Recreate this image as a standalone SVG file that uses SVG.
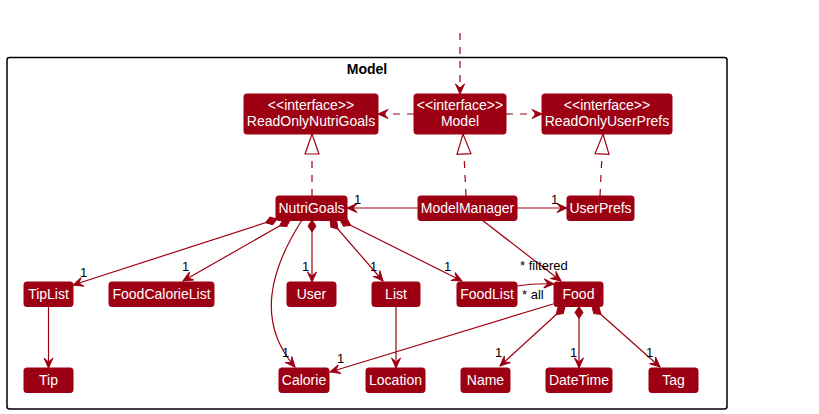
<svg xmlns="http://www.w3.org/2000/svg" width="819" height="414" viewBox="0 0 819 414">
<style>
.box{fill:#9D0012;stroke:#9D0012;stroke-width:1}
.t{font-family:"Liberation Sans",Arial,sans-serif;font-size:14px;fill:#FFFFFF;text-anchor:middle}
.e{fill:none;stroke:#9D0012;stroke-width:1.2}
.d{stroke-dasharray:7,7}
.a{marker-end:url(#arr)}
.r{marker-end:url(#tri)}
.c{marker-start:url(#dia)}
.l{font-family:"Liberation Sans",Arial,sans-serif;font-size:13px;fill:#000000}
</style>
<defs>
<marker id="arr" markerUnits="userSpaceOnUse" markerWidth="12" markerHeight="10" refX="10" refY="5" orient="auto" overflow="visible">
<path d="M0,0.5 L10,5 L0,9.5 L4,5 Z" fill="#9D0012" stroke="#9D0012" stroke-width="1"/>
</marker>
<marker id="dia" markerUnits="userSpaceOnUse" markerWidth="14" markerHeight="10" refX="0" refY="4.5" orient="auto" overflow="visible">
<path d="M0,4.5 L6,0.5 L12,4.5 L6,8.5 Z" fill="#9D0012" stroke="#9D0012" stroke-width="1"/>
</marker>
<marker id="tri" markerUnits="userSpaceOnUse" markerWidth="22" markerHeight="16" refX="20" refY="7" orient="auto" overflow="visible">
<path d="M0,0 L20,7 L0,14 Z" fill="#FFFFFF" stroke="#9D0012" stroke-width="1.2"/>
</marker>
</defs>
<rect width="819" height="414" fill="#FFFFFF"/>
<g id="package-Model">
<rect x="7" y="57.5" width="720" height="351.5" rx="2.5" fill="none" stroke="#000000" stroke-width="1.5"/>
<text x="367" y="74" font-family="'Liberation Sans',Arial,sans-serif" font-size="14" font-weight="bold" text-anchor="middle" fill="#000000">Model</text>
</g>
<g id="connectors">
<path class="e d a" d="M460,33 L460,94"/>
<path class="e d a" d="M414,114 L378,114"/>
<path class="e d a" d="M506,114 L542,114"/>
<path class="e d r" d="M312,196 L312,134"/>
<path class="e d r" d="M466,196 L463,134"/>
<path class="e d r" d="M600,196 L603,134"/>
<path class="e a" d="M418,208 L347,208"/>
<path class="e a" d="M517,208 L567,208"/>
<path class="e a" d="M482,220 L561,281"/>
<path class="e a" d="M517,286 Q536,283 554,284"/>
<path class="e c a" d="M277,219 L73,285"/>
<path class="e c a" d="M290,220 L183,281"/>
<path class="e a" d="M302,220 C270,270 256,322 295,367"/>
<path class="e c a" d="M312,220 L312,282"/>
<path class="e c a" d="M330,220 L383,281"/>
<path class="e c a" d="M340,220 L462,281"/>
<path class="e a" d="M48.5,306.5 L48.5,368"/>
<path class="e a" d="M396,306.5 L396,368"/>
<path class="e a" d="M553,304 L330,372"/>
<path class="e c a" d="M565,306.5 L500,366"/>
<path class="e c a" d="M579,306.5 L579,368"/>
<path class="e c a" d="M592,306.5 L660,367"/>
<text class="l" x="354" y="204">1</text>
<text class="l" x="551" y="204">1</text>
<text class="l" x="520" y="270">* filtered</text>
<text class="l" x="522" y="299">* all</text>
<text class="l" x="80" y="277">1</text>
<text class="l" x="182" y="271">1</text>
<text class="l" x="302" y="271">1</text>
<text class="l" x="370" y="271">1</text>
<text class="l" x="444" y="271">1</text>
<text class="l" x="282" y="357">1</text>
<text class="l" x="337" y="363">1</text>
<text class="l" x="495" y="357">1</text>
<text class="l" x="570" y="357">1</text>
<text class="l" x="646" y="357">1</text>
</g>
<g id="ReadOnlyNutriGoals"><rect class="box" x="244" y="94" width="134" height="40" rx="2.5"/><text class="t" x="311" y="110">&lt;&lt;interface&gt;&gt;</text><text class="t" x="311" y="126">ReadOnlyNutriGoals</text></g>
<g id="Model"><rect class="box" x="414" y="94" width="92" height="40" rx="2.5"/><text class="t" x="460" y="110">&lt;&lt;interface&gt;&gt;</text><text class="t" x="460" y="126">Model</text></g>
<g id="ReadOnlyUserPrefs"><rect class="box" x="542" y="94" width="130" height="40" rx="2.5"/><text class="t" x="607" y="110">&lt;&lt;interface&gt;&gt;</text><text class="t" x="607" y="126">ReadOnlyUserPrefs</text></g>
<g id="NutriGoals"><rect class="box" x="276" y="196" width="71" height="24.5" rx="2.5"/><text class="t" x="311.5" y="213">NutriGoals</text></g>
<g id="ModelManager"><rect class="box" x="418" y="196" width="99" height="24.5" rx="2.5"/><text class="t" x="467.5" y="213">ModelManager</text></g>
<g id="UserPrefs"><rect class="box" x="567" y="196" width="67" height="24.5" rx="2.5"/><text class="t" x="600.5" y="213">UserPrefs</text></g>
<g id="TipList"><rect class="box" x="24" y="282" width="49" height="24.5" rx="2.5"/><text class="t" x="48.5" y="299">TipList</text></g>
<g id="FoodCalorieList"><rect class="box" x="109" y="282" width="105" height="24.5" rx="2.5"/><text class="t" x="161.5" y="299">FoodCalorieList</text></g>
<g id="User"><rect class="box" x="287" y="282" width="49" height="24.5" rx="2.5"/><text class="t" x="311.5" y="299">User</text></g>
<g id="List"><rect class="box" x="372" y="282" width="48" height="24.5" rx="2.5"/><text class="t" x="396" y="299">List</text></g>
<g id="FoodList"><rect class="box" x="457" y="282" width="60" height="24.5" rx="2.5"/><text class="t" x="487" y="299">FoodList</text></g>
<g id="Food"><rect class="box" x="554" y="282" width="49" height="24.5" rx="2.5"/><text class="t" x="578.5" y="299">Food</text></g>
<g id="Tip"><rect class="box" x="24" y="368" width="49" height="24.5" rx="2.5"/><text class="t" x="48.5" y="385">Tip</text></g>
<g id="Calorie"><rect class="box" x="279" y="368" width="50" height="24.5" rx="2.5"/><text class="t" x="304" y="385">Calorie</text></g>
<g id="Location"><rect class="box" x="366" y="368" width="59" height="24.5" rx="2.5"/><text class="t" x="395.5" y="385">Location</text></g>
<g id="Name"><rect class="box" x="461" y="368" width="49" height="24.5" rx="2.5"/><text class="t" x="485.5" y="385">Name</text></g>
<g id="DateTime"><rect class="box" x="546" y="368" width="66" height="24.5" rx="2.5"/><text class="t" x="579" y="385">DateTime</text></g>
<g id="Tag"><rect class="box" x="649" y="368" width="49" height="24.5" rx="2.5"/><text class="t" x="673.5" y="385">Tag</text></g>
</svg>
